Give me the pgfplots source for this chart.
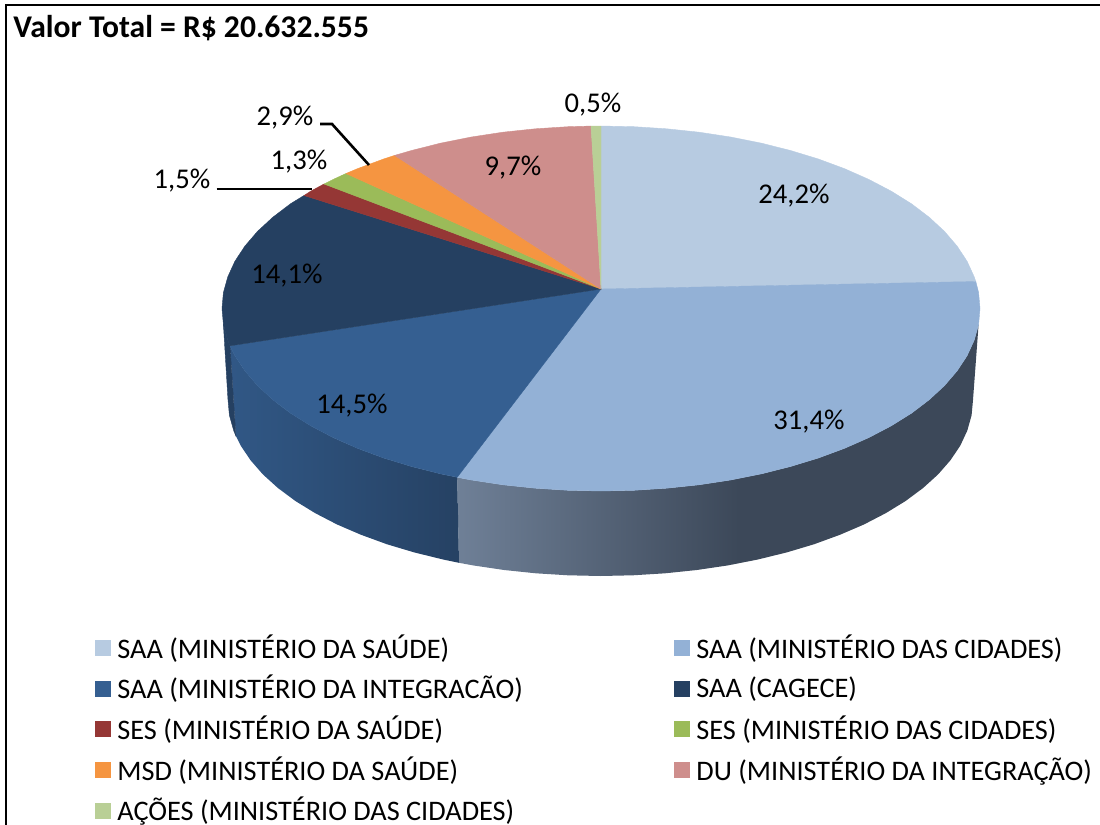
\documentclass[border=0pt]{standalone}
\usepackage{fontspec}
\setmainfont{Carlito}
\usepackage{pgfplots}
\pgfplotsset{compat=1.18}
\definecolor{c1}{HTML}{B7CBE1}
\definecolor{c2}{HTML}{93B1D6}
\definecolor{c3}{HTML}{355F91}
\definecolor{c4}{HTML}{254061}
\definecolor{c5}{HTML}{953735}
\definecolor{c6}{HTML}{9BBB59}
\definecolor{c7}{HTML}{F59541}
\definecolor{c8}{HTML}{CE8E8C}
\definecolor{c9}{HTML}{B9CF96}
\definecolor{wa}{HTML}{6F8097}
\definecolor{wb}{HTML}{3C4859}
\pgfdeclarehorizontalshading{rwall}{100bp}{color(0bp)=(wa);color(25bp)=(wa);color(52bp)=(wb);color(100bp)=(wb)}
\begin{document}
\begin{tikzpicture}
\useasboundingbox (0,0) rectangle (550pt,412.5pt);
\begin{axis}[
  scale only axis, width=550pt, height=412.5pt,
  xmin=0, xmax=1100, ymin=0, ymax=825, y dir=reverse,
  axis lines=none, clip=false,
  legend columns=2,
  legend cell align=left,
  legend style={at={(axis cs:91,630.5)}, anchor=north west, draw=none, fill=none, inner sep=0pt, outer sep=0pt,
    font=\fontsize{14.15}{16}\selectfont, row sep=3pt,
    /tikz/every even column/.style={column sep=71.5pt},
    /tikz/every odd column/.style={column sep=0pt}},
  legend image code/.code={\path (0pt,0pt) (11pt,0pt);\fill[#1] (2pt,-3.75pt) rectangle (9.5pt,3.75pt);},
]
% frame
\addplot[black, line width=1.2pt, forget plot] coordinates {(6,825)(6,5)(1100,5)};
% side walls
\addplot[draw=none, shade, shading=rwall, forget plot] coordinates {
(978.6,324.4)(974.2,340.2)(967.1,355.7)(957.1,370.9)(944.5,385.6)(929.2,399.75)(911.5,413.2)(891.3,425.8)(869,437.5)(844.6,448.3)(818.4,458)(790.5,466.5)(761.2,473.9)(730.6,480)(699.1,484.8)(666.8,488.2)(634,490.3)(601,491)(568,490.3)(535.2,488.2)(502.9,484.8)(471.4,480)(457.2,477.3)
(459,562.8)(473.1,565.4)(504.1,570)(535.8,573.3)(568,575.3)(600.5,576)(633,575.3)(665.2,573.3)(696.9,570)(727.9,565.4)(757.9,559.5)(786.8,552.4)(814.2,544.2)(839.9,534.8)(863.9,524.5)(885.9,513.1)(905.6,501)(923.1,488)(938.1,474.4)(950.5,460.2)(960.3,445.6)(967.3,430.6)(971.6,415.3)(973,400)} --cycle;
\addplot[draw=none, left color=c3!92!black, right color=c4!95!c3, forget plot] coordinates {
(457.2,477.3)(440.8,473.9)(411.5,466.5)(383.6,458)(357.4,448.3)(333,437.5)(310.7,425.8)(290.5,413.2)(272.8,399.75)(257.5,385.6)(244.9,370.9)(234.9,355.7)(230,345.8)
(235.9,436)(240.7,445.6)(250.5,460.2)(262.9,474.4)(277.9,488)(295.4,501)(315.1,513.1)(337.1,524.5)(361.1,534.8)(386.8,544.2)(414.2,552.4)(443.1,559.5)(459,562.8)} --cycle;
\addplot[draw=c4, line width=.2pt, fill=c4, forget plot] coordinates {
(223.4,324.4)(227.8,340.2)(230,345.8)(235.9,436)(233.7,430.6)(229.4,415.3)(228,400)} --cycle;
% top faces, one per slice
\addplot[fill=c1, draw=c1, line width=.2pt] coordinates {
(601,289)(601,126)(634,126.7)(666.8,128.8)(699.1,132.2)(730.6,137)(761.2,143.1)(790.5,150.5)(818.4,159)(844.6,168.7)(869,179.5)(891.3,191.2)(911.5,203.8)(929.2,217.25)(944.5,231.4)(957.1,246.1)(967.1,261.3)(974.2,276.8)(975.8,281.5)} --cycle;
\addlegendentry{SAA (MINISTÉRIO DA SAÚDE)}
\addplot[fill=c2, draw=c2, line width=.2pt] coordinates {
(601,289)(975.8,281.5)(978.6,292.6)(980,308.5)(978.6,324.4)(974.2,340.2)(967.1,355.7)(957.1,370.9)(944.5,385.6)(929.2,399.75)(911.5,413.2)(891.3,425.8)(869,437.5)(844.6,448.3)(818.4,458)(790.5,466.5)(761.2,473.9)(730.6,480)(699.1,484.8)(666.8,488.2)(634,490.3)(601,491)(568,490.3)(535.2,488.2)(502.9,484.8)(471.4,480)(457.2,477.3)} --cycle;
\addlegendentry{SAA (MINISTÉRIO DAS CIDADES)}
\addplot[fill=c3, draw=c3, line width=.2pt] coordinates {
(601,289)(457.2,477.3)(440.8,473.9)(411.5,466.5)(383.6,458)(357.4,448.3)(333,437.5)(310.7,425.8)(290.5,413.2)(272.8,399.75)(257.5,385.6)(244.9,370.9)(234.9,355.7)(230,345.8)} --cycle;
\addlegendentry{SAA (MINISTÉRIO DA INTEGRACÃO)}
\addplot[fill=c4, draw=c4, line width=.2pt] coordinates {
(601,289)(230,345.8)(227.8,340.2)(223.4,324.4)(222,308.5)(223.4,292.6)(227.8,276.8)(234.9,261.3)(244.9,246.1)(257.5,231.4)(272.8,217.25)(290.5,203.8)(304,195.5)} --cycle;
\addlegendentry{SAA (CAGECE)}
\addplot[fill=c5, draw=c5, line width=.2pt] coordinates {
(601,289)(304,195.5)(310.7,191.2)(324,184)} --cycle;
\addlegendentry{SES (MINISTÉRIO DA SAÚDE)}
\addplot[fill=c6, draw=c6, line width=.2pt] coordinates {
(601,289)(324,184)(333,179.5)(346,173.5)} --cycle;
\addlegendentry{SES (MINISTÉRIO DAS CIDADES)}
\addplot[fill=c7, draw=c7, line width=.2pt] coordinates {
(601,289)(346,173.5)(357.4,168.7)(383.6,159)(394.6,155.4)} --cycle;
\addlegendentry{MSD (MINISTÉRIO DA SAÚDE)}
\addplot[fill=c8, draw=c8, line width=.2pt] coordinates {
(601,289)(394.6,155.4)(411.5,150.5)(440.8,143.1)(471.4,137)(502.9,132.2)(535.2,128.8)(568,126.7)(591,126.05)} --cycle;
\addlegendentry{DU (MINISTÉRIO DA INTEGRAÇÃO)}
\addplot[fill=c9, draw=c9, line width=.2pt] coordinates {
(601,289)(591,126.05)(601,126)} --cycle;
\addlegendentry{AÇÕES (MINISTÉRIO DAS CIDADES)}
% leader lines
\addplot[black, line width=1.3pt, forget plot] coordinates {(216.5,189)(312,189)};
\addplot[black, line width=1.3pt, forget plot] coordinates {(320,124)(332,124)(369,165)};
% labels
\node[anchor=base west, font=\fontsize{15.8}{18}\selectfont\bfseries, inner sep=0pt] at (axis cs:13,37) {Valor Total = R\$ 20.632.555};
\begin{scope}[every node/.style={font=\fontsize{14.3}{16}\selectfont, inner sep=0pt, anchor=center}]
\node at (axis cs:794,195.5) {24,2\%};
\node at (axis cs:809,421.5) {31,4\%};
\node at (axis cs:352,405.5) {14,5\%};
\node at (axis cs:287,275.5) {14,1\%};
\node at (axis cs:182,181) {1,5\%};
\node at (axis cs:299,161.5) {1,3\%};
\node at (axis cs:285,117.5) {2,9\%};
\node at (axis cs:593,104.5) {0,5\%};
\node at (axis cs:513,167.5) {9,7\%};
\end{scope}
\end{axis}
\end{tikzpicture}
\end{document}
